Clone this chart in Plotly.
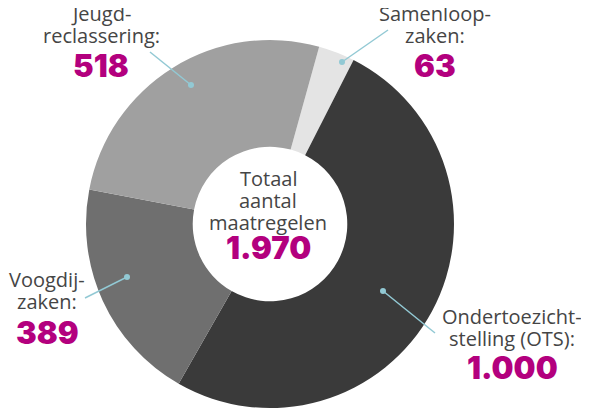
import plotly.graph_objects as go

# the page puts the figure 8px in from the top-left corner
OFFSET = 8
W, H = 589 - OFFSET, 411 - OFFSET

categories = ["Samenloopzaken", "Ondertoezichtstelling (OTS)", "Voogdijzaken", "Jeugdreclassering"]
values = [63, 1000, 389, 518]
slice_colors = ["#e4e4e4", "#3a3a3a", "#6f6f6f", "#a0a0a0"]

label_lines = [
    ["Samenloop-", "zaken:"],
    ["Ondertoezicht-", "stelling (OTS):"],
    ["Voogdij-", "zaken:"],
    ["Jeugd-", "reclassering:"],
]
value_labels = ["63", "1.000", "389", "518"]
center_lines = ["Totaal", "aantal", "maatregelen"]
total_label = "1.970"

# text block anchors in window pixels: (centre x, first label baseline, number baseline)
label_pos = [(435, 23, 78), (512, 326, 380), (47, 289, 345), (101, 23, 78)]
center_pos = (268, 188, 260)
LINE_STEP = 22
# leader lines: (dot x, dot y, end x, end y)
leaders = [(342, 62, 388, 30), (383, 291, 435, 333), (127, 277, 85, 298), (191, 85, 150, 52)]

LABEL_COLOR = "#454545"
NUM_COLOR = "#b3007e"
LINE_COLOR = "#92c9d4"


def px(x):
    return (x - OFFSET) / W


def py(y):
    return 1 - (y - OFFSET) / H


fig = go.Figure()
fig.add_trace(
    go.Pie(
        labels=categories,
        values=values,
        marker=dict(colors=slice_colors, line=dict(width=0)),
        hole=0.42,
        sort=False,
        direction="clockwise",
        rotation=15.5,
        textinfo="none",
        hoverinfo="label+value",
        domain=dict(x=[px(86), px(454)], y=[py(408), py(40)]),
        showlegend=False,
    )
)

annotations = []


def add_block(cx, first_base, num_base, lines, number):
    for i, line in enumerate(lines):
        annotations.append(dict(
            x=px(cx), y=py(first_base + i * LINE_STEP + 6), xref="paper", yref="paper",
            text=line, showarrow=False, xanchor="center", yanchor="bottom",
            font=dict(family="Open Sans", size=20, color=LABEL_COLOR),
        ))
    annotations.append(dict(
        x=px(cx), y=py(num_base + 8), xref="paper", yref="paper",
        text=number, showarrow=False, xanchor="center", yanchor="bottom",
        font=dict(family="Inter", size=31, color=NUM_COLOR, weight=900),
    ))


for (cx, fb, nb), lines, num in zip(label_pos, label_lines, value_labels):
    add_block(cx, fb, nb, lines, num)

add_block(*center_pos, center_lines, total_label)

shapes = []
for dx, dy, ex, ey in leaders:
    shapes.append(dict(type="line", xref="paper", yref="paper",
                       x0=px(dx), y0=py(dy), x1=px(ex), y1=py(ey),
                       line=dict(color=LINE_COLOR, width=1.5)))
    shapes.append(dict(type="circle", xref="paper", yref="paper",
                       x0=px(dx - 3), y0=py(dy - 3), x1=px(dx + 3), y1=py(dy + 3),
                       fillcolor=LINE_COLOR, line=dict(width=0)))

fig.update_layout(
    width=W,
    height=H,
    margin=dict(l=0, r=0, t=0, b=0),
    paper_bgcolor="white",
    plot_bgcolor="white",
    annotations=annotations,
    shapes=shapes,
)

fig.write_html("out.html")
